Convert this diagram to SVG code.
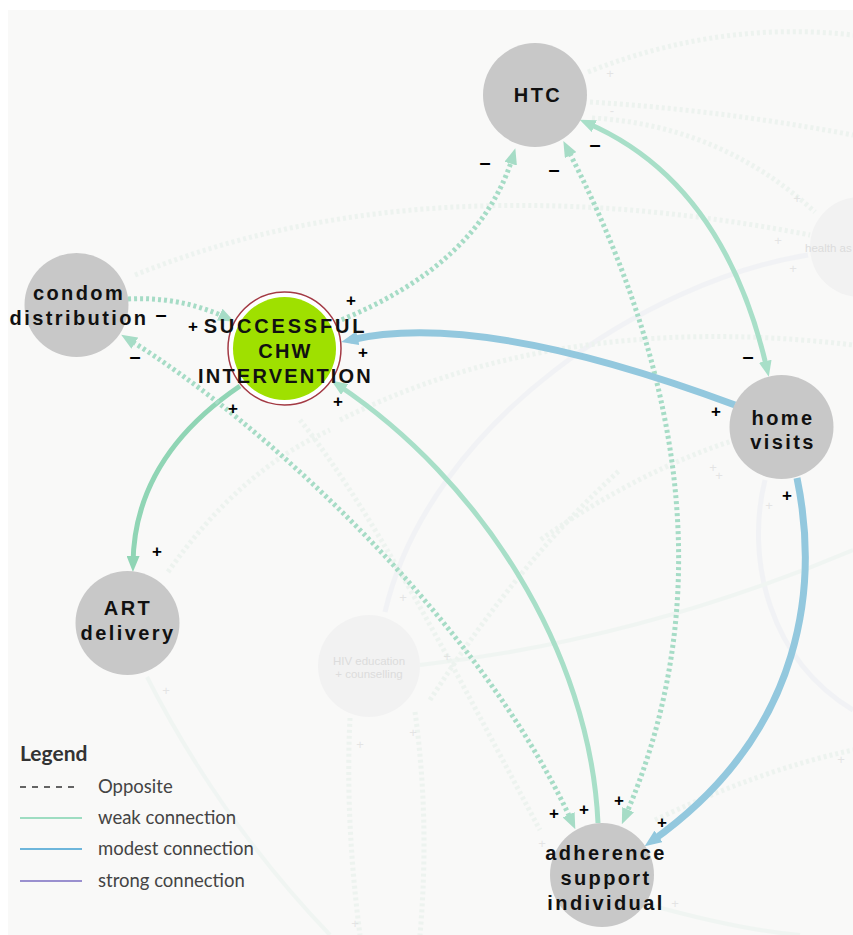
<svg xmlns="http://www.w3.org/2000/svg" width="853" height="935" viewBox="0 0 853 935">
  <style>
    .panel { fill: #f9f9f8; }
    .node circle { fill: #c8c8c8; }
    .lbl { font-family: "Liberation Sans", Arial, sans-serif; font-weight: bold; font-size: 20px; letter-spacing: 2.4px; fill: #111; text-anchor: middle; }
    .hub { letter-spacing: 2.2px; }
    .wide { letter-spacing: 2.8px; }
    .sg { font-family: "Liberation Sans", Arial, sans-serif; font-weight: bold; font-size: 17px; fill: #000; text-anchor: middle; dominant-baseline: central; }
    .mn { font-size: 20px; }
    .edge { fill: none; }
    .weak { stroke: #a8dfc8; stroke-width: 5; }
    .weak2 { stroke: #90d5b5; stroke-width: 5; }
    .modest { stroke: #93c8de; stroke-width: 7; }
    .dot { stroke: #a6dcc6; stroke-width: 5; stroke-dasharray: 3 3; }
    .fdot { fill: none; stroke: #e4efe9; stroke-width: 5; stroke-dasharray: 3 3; }
    .fsol { fill: none; stroke: #eceef3; stroke-width: 5; }
    .fgrn { fill: none; stroke: #e9f3ee; stroke-width: 4; }
    .fplus { font-family: "Liberation Sans", Arial, sans-serif; font-size: 13px; fill: #dcdcdc; text-anchor: middle; dominant-baseline: central; }
    .ghost circle { fill: #f2f2f2; }
    .ghost text { font-family: "Liberation Sans", Arial, sans-serif; font-size: 11.5px; fill: #dcdcdc; }
    .leg { font-family: Lato, "Open Sans", sans-serif; font-size: 18.5px; fill: #444; }
    .legh { font-family: Lato, "Open Sans", sans-serif; font-size: 21px; font-weight: bold; fill: #333; }
  </style>
  <defs>
    <marker id="ah-weak" markerUnits="userSpaceOnUse" viewBox="0 0 16 13" markerWidth="16" markerHeight="13" refX="8" refY="6.5" orient="auto-start-reverse">
      <path d="M0,0 L16,6.5 L0,13 z" fill="#a8dfc8"/>
    </marker>
    <marker id="ah-weak2" markerUnits="userSpaceOnUse" viewBox="0 0 16 13" markerWidth="16" markerHeight="13" refX="8" refY="6.5" orient="auto-start-reverse">
      <path d="M0,0 L16,6.5 L0,13 z" fill="#90d5b5"/>
    </marker>
    <marker id="ah-dot" markerUnits="userSpaceOnUse" viewBox="0 0 16 13" markerWidth="16" markerHeight="13" refX="8" refY="6.5" orient="auto-start-reverse">
      <path d="M0,0 L16,6.5 L0,13 z" fill="#a6dcc6"/>
    </marker>
    <marker id="ah-modest" markerUnits="userSpaceOnUse" viewBox="0 0 17 14" markerWidth="17" markerHeight="14" refX="8" refY="7" orient="auto-start-reverse">
      <path d="M0,0 L17,7 L0,14 z" fill="#93c8de"/>
    </marker>
  </defs>

  <rect x="0" y="0" width="853" height="935" fill="#ffffff"/>
  <rect class="panel" x="8" y="10" width="845" height="925"/>

  <!-- dimmed background layer: other factors and their links -->
  <g id="background-links" opacity="0.55">
    <path class="fdot" d="M135,275 Q420,160 810,235"/>
    <path class="fdot" d="M588,72 Q720,20 853,35"/>
    <path class="fdot" d="M590,102 Q720,110 853,135"/>
    <path class="fdot" d="M592,118 Q720,125 815,212"/>
    <path class="fsol" d="M808,255 C650,280 430,420 385,612"/>
    <path class="fdot" d="M340,420 Q560,310 853,345"/>
    <path class="fsol" d="M765,480 C745,560 770,660 853,710" stroke="#e8f0f5"/>
    <path class="fgrn" d="M420,665 Q640,640 853,550"/>
    <path class="fgrn" d="M147,677 Q220,820 330,935"/>
    <path class="fgrn" d="M650,905 Q740,930 800,935"/>
    <path class="fdot" d="M350,718 Q345,820 360,935"/>
    <path class="fdot" d="M415,712 Q430,820 420,935"/>
    <path class="fdot" d="M300,420 C380,520 470,700 540,830"/>
    <path class="fdot" d="M168,572 Q240,470 330,430"/>
    <path class="fdot" d="M655,820 Q760,770 853,750"/>
    <path class="fdot" d="M735,440 Q640,470 540,540"/>
    <path class="fdot" d="M430,700 Q520,560 620,470"/>
  </g>
  <g id="background-signs" opacity="0.7">
    <text class="fplus" x="610" y="73">+</text>
    <text class="fplus" x="612" y="110">-</text>
    <text class="fplus" x="797" y="198">+</text>
    <text class="fplus" x="778" y="240">+</text>
    <text class="fplus" x="793" y="268">+</text>
    <text class="fplus" x="713" y="467">+</text>
    <text class="fplus" x="719" y="475">+</text>
    <text class="fplus" x="769" y="505">+</text>
    <text class="fplus" x="166" y="690">+</text>
    <text class="fplus" x="360" y="744">+</text>
    <text class="fplus" x="413" y="732">+</text>
    <text class="fplus" x="447" y="656">+</text>
    <text class="fplus" x="403" y="597">+</text>
    <text class="fplus" x="841" y="759">+</text>
    <text class="fplus" x="542" y="843">+</text>
    <text class="fplus" x="675" y="903">+</text>
    <text class="fplus" x="355" y="923">+</text>
  </g>
  <g id="health-as" class="ghost">
    <circle cx="860" cy="247" r="50"/>
    <text x="805" y="252">health as</text>
  </g>
  <g id="hiv-education" class="ghost">
    <circle cx="369" cy="666" r="51"/>
    <text x="369" y="665" text-anchor="middle">HIV education</text>
    <text x="369" y="678" text-anchor="middle">+ counselling</text>
  </g>

  <!-- connectors -->
  <g id="connectors">
    <path class="edge dot" d="M336,322 Q480,265 513,156" marker-end="url(#ah-dot)"/>
    <path class="edge dot" d="M567,148 Q756,514 625,817" marker-start="url(#ah-dot)" marker-end="url(#ah-dot)"/>
    <path class="edge weak" d="M587,123 Q724,182 767,369" marker-start="url(#ah-weak)" marker-end="url(#ah-weak)"/>
    <path class="edge modest" d="M735,405 Q480,310 350,340" marker-end="url(#ah-modest)"/>
    <path class="edge modest" d="M797,478 C818,580 808,730 652,841" marker-end="url(#ah-modest)"/>
    <path class="edge weak2" d="M240,386 Q134,458 133,564" marker-end="url(#ah-weak2)"/>
    <path class="edge weak" d="M598,823 C590,650 480,480 338,385" marker-end="url(#ah-weak)"/>
    <path class="edge dot" d="M128,339 C260,420 480,620 572,822" marker-start="url(#ah-dot)" marker-end="url(#ah-dot)"/>
    <path class="edge dot" d="M128,299 Q180,296 227,318" marker-end="url(#ah-dot)"/>
  </g>

  <!-- factors -->
  <g id="htc" class="node">
    <circle cx="535" cy="95" r="52"/>
    <text class="lbl" x="538" y="102">HTC</text>
  </g>
  <g id="condom-distribution" class="node">
    <circle cx="76.5" cy="305" r="52"/>
    <text class="lbl" x="79" y="300">condom</text>
    <text class="lbl" x="79" y="325">distribution</text>
  </g>
  <g id="successful-chw-intervention">
    <circle cx="284.5" cy="348.5" r="56.5" fill="#ffffff" stroke="#a33a44" stroke-width="1.5"/>
    <circle cx="284.5" cy="348.5" r="51.5" fill="#9fe000"/>
    <text class="lbl wide" x="285.5" y="333">SUCCESSFUL</text>
    <text class="lbl hub" x="285.5" y="358">CHW</text>
    <text class="lbl hub" x="285.5" y="383">INTERVENTION</text>
  </g>
  <g id="home-visits" class="node">
    <circle cx="781.5" cy="427" r="52"/>
    <text class="lbl" x="783" y="425">home</text>
    <text class="lbl" x="783" y="449">visits</text>
  </g>
  <g id="art-delivery" class="node">
    <circle cx="127.5" cy="623" r="52"/>
    <text class="lbl" x="128" y="615">ART</text>
    <text class="lbl" x="128" y="640">delivery</text>
  </g>
  <g id="adherence-support-individual" class="node">
    <circle cx="602" cy="875" r="52"/>
    <text class="lbl" x="606" y="860">adherence</text>
    <text class="lbl" x="606" y="885">support</text>
    <text class="lbl" x="606" y="910">individual</text>
  </g>

  <!-- link polarity signs -->
  <g id="polarity">
    <text class="sg mn" x="485" y="162">–</text>
    <text class="sg mn" x="554" y="169">–</text>
    <text class="sg mn" x="595" y="144">–</text>
    <text class="sg" x="351" y="300">+</text>
    <text class="sg mn" x="161" y="314">–</text>
    <text class="sg" x="193" y="326">+</text>
    <text class="sg mn" x="135" y="356">–</text>
    <text class="sg" x="363" y="352">+</text>
    <text class="sg" x="233" y="408">+</text>
    <text class="sg" x="338" y="401">+</text>
    <text class="sg mn" x="748" y="356">–</text>
    <text class="sg" x="716" y="411">+</text>
    <text class="sg" x="787" y="495">+</text>
    <text class="sg" x="157" y="551">+</text>
    <text class="sg" x="554" y="813">+</text>
    <text class="sg" x="584" y="809">+</text>
    <text class="sg" x="619" y="800">+</text>
    <text class="sg" x="662" y="822">+</text>
  </g>

  <!-- legend -->
  <g id="legend">
    <text class="legh" x="20" y="761">Legend</text>
    <line x1="20" y1="787" x2="78" y2="787" stroke="#333" stroke-width="1.6" stroke-dasharray="6 6"/>
    <text class="leg" x="98" y="793">Opposite</text>
    <line x1="20" y1="818" x2="82" y2="818" stroke="#7fd3b1" stroke-width="1.6"/>
    <text class="leg" x="98" y="824">weak connection</text>
    <line x1="20" y1="849" x2="82" y2="849" stroke="#3f9fd2" stroke-width="1.6"/>
    <text class="leg" x="98" y="855">modest connection</text>
    <line x1="20" y1="881" x2="82" y2="881" stroke="#7a6cc2" stroke-width="1.6"/>
    <text class="leg" x="98" y="887">strong connection</text>
  </g>
</svg>
